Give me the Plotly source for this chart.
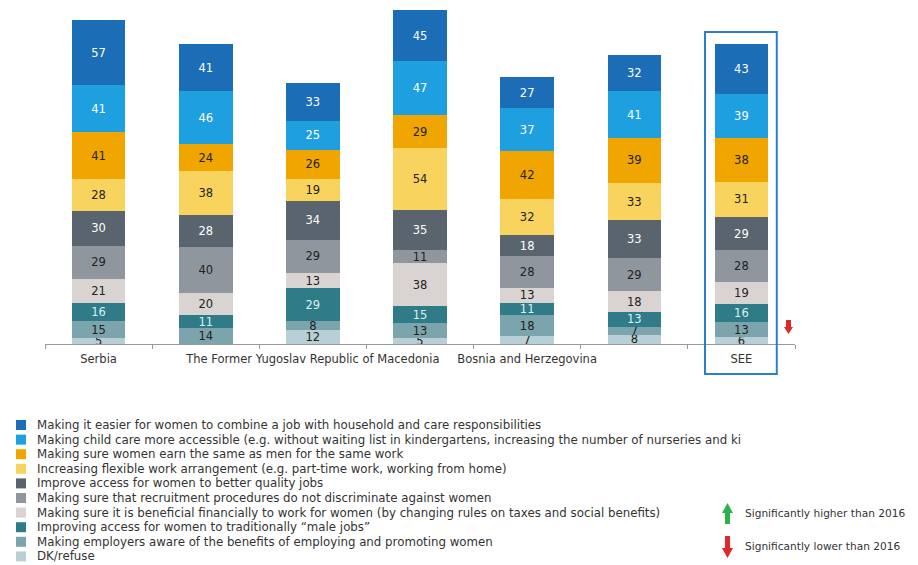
import plotly.graph_objects as go

categories = ["Serbia", "Montenegro", "The Former Yugoslav Republic of Macedonia",
              "Kosovo*", "Bosnia and Herzegovina", "Albania", "SEE"]
tick_labels = ["Serbia", "", "The Former Yugoslav Republic of Macedonia", "",
               "Bosnia and Herzegovina", "", "SEE"]

series_names = [
    "Making it easier for women to combine a job with household and care responsibilities",
    "Making child care more accessible (e.g. without waiting list in kindergartens, increasing the number of nurseries and ki",
    "Making sure women earn the same as men for the same work",
    "Increasing flexible work arrangement (e.g. part-time work, working from home)",
    "Improve access for women to better quality jobs",
    "Making sure that recruitment procedures do not discriminate against women",
    "Making sure it is beneficial financially to work for women (by changing rules on taxes and social benefits)",
    "Improving access for women to traditionally \u201cmale jobs\u201d",
    "Making employers aware of the benefits of employing and promoting women",
    "DK/refuse",
]

combine_job = [57, 41, 33, 45, 27, 32, 43]
child_care = [41, 46, 25, 47, 37, 41, 39]
earn_same = [41, 24, 26, 29, 42, 39, 38]
flexible_work = [28, 38, 19, 54, 32, 33, 31]
better_jobs = [30, 28, 34, 35, 18, 33, 29]
recruitment = [29, 40, 29, 11, 28, 29, 28]
financial = [21, 20, 13, 38, 13, 18, 19]
male_jobs = [16, 11, 29, 15, 11, 13, 16]
employers_aware = [15, 14, 8, 13, 18, 7, 13]
dk_refuse = [5, 0, 12, 5, 7, 8, 6]

higher_label = "Significantly higher than 2016"
lower_label = "Significantly lower than 2016"

series_values = [combine_job, child_care, earn_same, flexible_work, better_jobs,
                 recruitment, financial, male_jobs, employers_aware, dk_refuse]

colors = ["#1b6db5", "#1e9fe0", "#f0a500", "#f8d35e", "#5a646e",
          "#8f969d", "#d9d4d1", "#2f7b87", "#7ca4ac", "#b8d0d5"]
text_colors = ["white", "white", "#222", "#222", "white",
               "#222", "#222", "#d8f0f5", "#222", "#222"]

FONT = "DejaVu Sans"
OFF = 8  # page body margin offset
W, H = 918 - OFF, 565 - OFF
L, R, T, B = 45 - OFF, 795 - OFF, 10 - OFF, 344 - OFF

def px(x):
    return (x - OFF - L) / (R - L)

def py(y):
    return (B - (y - OFF)) / (B - T)

fig = go.Figure()
for name, vals, col, tcol in reversed(list(zip(series_names, series_values, colors, text_colors))):
    fig.add_trace(go.Bar(
        x=categories, y=vals, name=name, marker=dict(color=col, line=dict(width=0)),
        text=[str(v) if v > 0 else "" for v in vals],
        textposition="inside", insidetextanchor="middle", textangle=0,
        constraintext="none",
        textfont=dict(family=FONT, size=11.5, color=tcol),
        width=0.5, showlegend=False, hoverinfo="x+y+name",
    ))

shapes = []
annotations = []

shapes.append(dict(type="rect", xref="x", yref="paper", x0=5.66, x1=6.33,
                   y0=py(374), y1=py(32), line=dict(color="#2a7fc9", width=2),
                   fillcolor="rgba(0,0,0,0)", layer="above"))

def arrow_path(xc, y_tip, y_end, shaft_w, head_w, head_len):
    d = 1 if y_end > y_tip else -1
    yh = y_tip + d * head_len
    pts = [(xc, y_tip), (xc + head_w / 2, yh), (xc + shaft_w / 2, yh),
           (xc + shaft_w / 2, y_end), (xc - shaft_w / 2, y_end),
           (xc - shaft_w / 2, yh), (xc - head_w / 2, yh)]
    return "M " + " L ".join(f"{px(a):.5f},{py(b):.5f}" for a, b in pts) + " Z"

shapes.append(dict(type="path", xref="paper", yref="paper",
                   path=arrow_path(727.5, 503, 524, 5, 11, 10),
                   fillcolor="#2eb04f", line=dict(width=0)))
shapes.append(dict(type="path", xref="paper", yref="paper",
                   path=arrow_path(727.5, 558, 536, 5, 11, 10),
                   fillcolor="#e0272c", line=dict(width=0)))
shapes.append(dict(type="path", xref="paper", yref="paper",
                   path=arrow_path(788.5, 334, 320, 5, 9, 7),
                   fillcolor="#e0272c", line=dict(width=0)))

annotations.append(dict(xref="paper", yref="paper", x=px(743), y=py(513),
                        text=higher_label, showarrow=False, xanchor="left", yanchor="middle",
                        font=dict(family=FONT, size=10.6, color="#333")))
annotations.append(dict(xref="paper", yref="paper", x=px(743), y=py(546),
                        text=lower_label, showarrow=False, xanchor="left", yanchor="middle",
                        font=dict(family=FONT, size=10.6, color="#333")))

for i, (name, col) in enumerate(zip(series_names, colors)):
    yc = 425 + 14.6 * i
    shapes.append(dict(type="rect", xref="paper", yref="paper",
                       x0=px(16), x1=px(26), y0=py(yc + 5), y1=py(yc - 5),
                       fillcolor=col, line=dict(width=0)))
    annotations.append(dict(xref="paper", yref="paper", x=px(35), y=py(yc),
                            text=name, showarrow=False, xanchor="left", yanchor="middle",
                            font=dict(family=FONT, size=11.8, color="#333")))

fig.update_layout(
    width=W, height=H, barmode="stack",
    margin=dict(l=L, r=W - R, t=T, b=H - B, pad=0),
    plot_bgcolor="white", paper_bgcolor="white",
    shapes=shapes, annotations=annotations,
    font=dict(family=FONT, size=11, color="#333"),
    xaxis=dict(type="category", range=[-0.5, 6.5], tickmode="array",
               tickvals=categories, ticktext=tick_labels, tickson="boundaries",
               tickangle=0, ticks="outside", ticklen=4, tickcolor="#999", showline=True,
               linecolor="#999", linewidth=1, showgrid=False, ticklabelstandoff=4,
               tickfont=dict(family=FONT, size=11.5, color="#333")),
    yaxis=dict(range=[0, 292], visible=False, showgrid=False),
)

fig.write_html("out.html")
